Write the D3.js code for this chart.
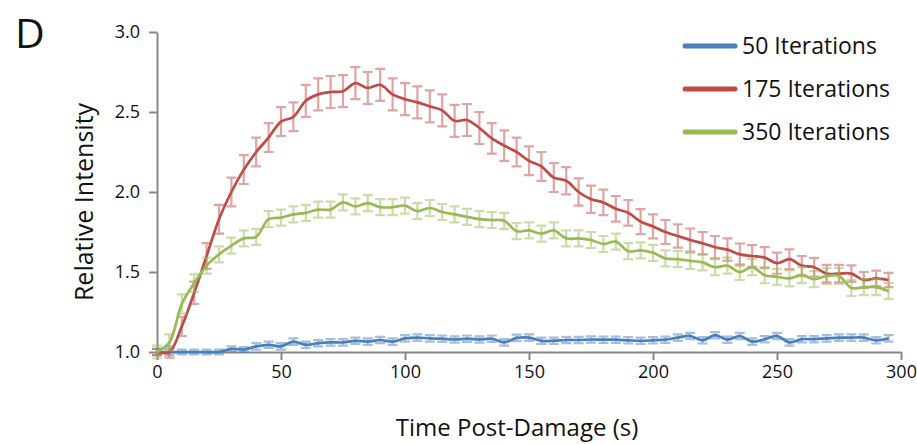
<!DOCTYPE html>
<html>
<head>
<meta charset="utf-8">
<script src="https://cdn.jsdelivr.net/npm/d3@7"></script>
<style>
  html, body { margin: 0; padding: 0; background: #fff; }
  svg { display: block; }
  text { font-family: "Open Sans", "Noto Sans", sans-serif; fill: #111; }
</style>
</head>
<body>
<svg id="chart" width="917" height="444"></svg>
<script>
// Time points (s), sampled every 5 s
const times = [0,5,10,15,20,25,30,35,40,45,50,55,60,65,70,75,80,85,90,95,
  100,105,110,115,120,125,130,135,140,145,150,155,160,165,170,175,180,185,190,195,
  200,205,210,215,220,225,230,235,240,245,250,255,260,265,270,275,280,285,290,295];

// Mean relative intensity per series
const iter50 = [1.00,1.00,1.00,1.00,1.00,1.00,1.02,1.015,1.035,1.045,1.035,1.065,1.045,1.055,1.06,1.06,1.07,1.065,1.075,1.065,
  1.085,1.09,1.085,1.083,1.078,1.083,1.078,1.083,1.06,1.088,1.09,1.07,1.07,1.075,1.075,1.078,1.077,1.077,1.073,1.07,
  1.073,1.077,1.09,1.10,1.073,1.105,1.077,1.10,1.065,1.08,1.10,1.06,1.08,1.08,1.085,1.09,1.09,1.09,1.073,1.085];
const iter175 = [1.00,1.00,1.16,1.37,1.60,1.83,2.00,2.14,2.25,2.34,2.44,2.47,2.57,2.61,2.625,2.63,2.68,2.65,2.67,2.61,
  2.58,2.56,2.535,2.51,2.445,2.45,2.40,2.335,2.29,2.25,2.195,2.16,2.09,2.07,2.00,1.955,1.935,1.895,1.87,1.815,
  1.785,1.75,1.725,1.70,1.68,1.655,1.64,1.61,1.60,1.59,1.555,1.58,1.54,1.53,1.49,1.49,1.49,1.45,1.46,1.45];
const iter350 = [1.00,1.06,1.30,1.43,1.54,1.61,1.665,1.71,1.72,1.83,1.84,1.86,1.87,1.89,1.89,1.935,1.91,1.93,1.905,1.905,
  1.915,1.88,1.90,1.875,1.86,1.845,1.83,1.825,1.82,1.755,1.76,1.74,1.76,1.71,1.71,1.70,1.675,1.69,1.63,1.635,
  1.62,1.585,1.58,1.57,1.56,1.53,1.54,1.50,1.53,1.48,1.47,1.46,1.48,1.455,1.475,1.475,1.40,1.405,1.405,1.38];

// Error bar half-heights per series
const err50 = [0.02,0.02,0.015,0.015,0.015,0.015,0.015,0.015,0.02,0.02,0.02,0.02,0.02,0.02,0.02,0.02,0.02,0.02,0.02,0.02,
  0.02,0.02,0.02,0.02,0.02,0.02,0.02,0.02,0.02,0.02,0.02,0.02,0.02,0.02,0.02,0.02,0.02,0.02,0.02,0.02,
  0.02,0.02,0.02,0.02,0.02,0.02,0.02,0.02,0.02,0.02,0.02,0.02,0.02,0.02,0.02,0.02,0.02,0.02,0.02,0.02];
const err175 = [0.02,0.035,0.06,0.07,0.08,0.09,0.09,0.09,0.09,0.09,0.09,0.09,0.1,0.1,0.1,0.1,0.1,0.1,0.1,0.1,
  0.1,0.1,0.1,0.1,0.1,0.1,0.1,0.095,0.095,0.09,0.09,0.09,0.09,0.085,0.085,0.085,0.08,0.08,0.08,0.078,
  0.075,0.075,0.073,0.072,0.07,0.07,0.07,0.068,0.068,0.066,0.066,0.062,0.06,0.058,0.055,0.055,0.052,0.05,0.048,0.045];
const err350 = [0.04,0.05,0.06,0.055,0.05,0.05,0.05,0.05,0.05,0.05,0.05,0.05,0.05,0.05,0.05,0.05,0.05,0.05,0.05,0.05,
  0.05,0.05,0.05,0.05,0.05,0.05,0.05,0.05,0.05,0.05,0.05,0.05,0.05,0.05,0.05,0.05,0.05,0.05,0.05,0.05,
  0.05,0.05,0.05,0.05,0.05,0.05,0.05,0.05,0.05,0.05,0.05,0.05,0.05,0.05,0.05,0.05,0.05,0.05,0.05,0.05];

const seriesNames = ["50 Iterations", "175 Iterations", "350 Iterations"];
const seriesColors = ["#4a7ebb", "#be4b48", "#98b954"];
const seriesValues = [iter50, iter175, iter350];
const seriesErrors = [err50, err175, err350];

const xTicks = [0, 50, 100, 150, 200, 250, 300];
const yTicks = [1.0, 1.5, 2.0, 2.5, 3.0];

const svg = d3.select("#chart");

const x = d3.scaleLinear().domain([0, 300]).range([157, 901]);
const y = d3.scaleLinear().domain([1, 3]).range([352, 32]);

// Axes
const axisColor = "#878787";
const yAxis = svg.append("g")
  .attr("transform", `translate(${x(0)},0)`)
  .call(d3.axisLeft(y).tickValues(yTicks).tickFormat(d3.format(".1f"))
    .tickSize(8).tickSizeOuter(0).tickPadding(9));
const xAxis = svg.append("g")
  .attr("transform", `translate(0,${y(1)})`)
  .call(d3.axisBottom(x).tickValues(xTicks).tickFormat(d3.format("d"))
    .tickSize(8).tickSizeOuter(0).tickPadding(5));

[yAxis, xAxis].forEach(g => {
  g.select(".domain").attr("stroke", axisColor).attr("stroke-width", 2);
  g.selectAll(".tick line").attr("stroke", axisColor).attr("stroke-width", 2);
  g.selectAll(".tick text").attr("fill", "#111")
    .style("font-size", "18px").style("font-family", "'Open Sans', sans-serif");
});

// Series: error bars, then the smoothed mean line
const line = d3.line()
  .x((d, i) => x(times[i]))
  .y(d => y(d))
  .curve(d3.curveCatmullRom.alpha(0.5));

const capHalf = 5;
seriesValues.forEach((vals, s) => {
  const col = seriesColors[s];
  const errs = seriesErrors[s];
  const g = svg.append("g").attr("class", "series");
  const eb = g.append("g")
    .attr("stroke", col).attr("stroke-opacity", 0.5)
    .attr("stroke-width", 2.2).attr("fill", "none");
  const bars = eb.selectAll("g").data(vals).join("g");
  bars.append("path").attr("d", (d, i) => {
    const cx = x(times[i]);
    const top = y(d + errs[i]);
    const bot = y(d - errs[i]);
    return `M${cx},${top}V${bot}M${cx - capHalf},${top}H${cx + capHalf}M${cx - capHalf},${bot}H${cx + capHalf}`;
  });
  g.append("path")
    .datum(vals)
    .attr("d", line)
    .attr("fill", "none")
    .attr("stroke", col)
    .attr("stroke-width", 2.7)
    .attr("stroke-linejoin", "round");
});

// Legend
const legend = svg.append("g");
const legendY = [46, 89, 132];
seriesNames.forEach((name, i) => {
  legend.append("line")
    .attr("x1", 685).attr("x2", 735)
    .attr("y1", legendY[i]).attr("y2", legendY[i])
    .attr("stroke", seriesColors[i]).attr("stroke-width", 5)
    .attr("stroke-linecap", "round");
  legend.append("text")
    .attr("x", 742).attr("y", legendY[i])
    .attr("dy", "0.35em")
    .style("font-size", "23px")
    .text(name);
});

// Axis titles and panel letter
svg.append("text")
  .attr("transform", `translate(93,202) rotate(-90)`)
  .attr("text-anchor", "middle")
  .style("font-size", "25px")
  .text("Relative Intensity");

svg.append("text")
  .attr("x", 517).attr("y", 436)
  .attr("text-anchor", "middle")
  .style("font-size", "24px")
  .text("Time Post-Damage (s)");

svg.append("text")
  .attr("x", 15).attr("y", 48)
  .style("font-size", "41px")
  .text("D");
</script>
</body>
</html>
